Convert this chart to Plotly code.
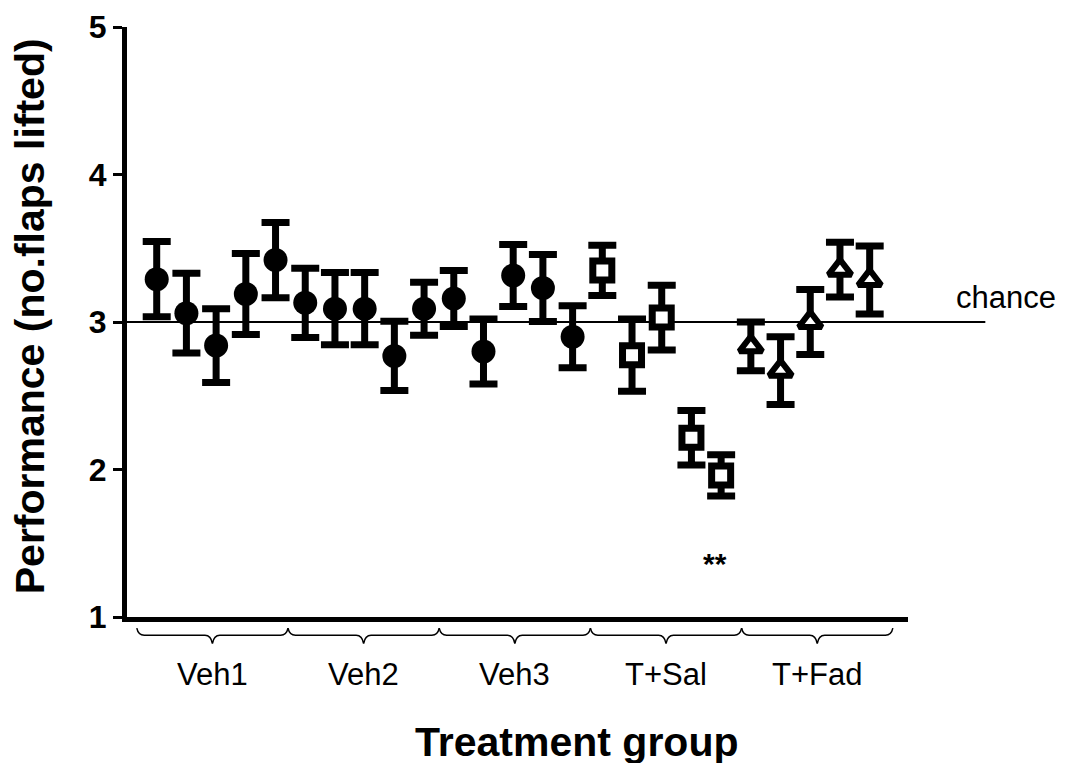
import plotly.graph_objects as go

# ---- data ----
groups = ["Veh1", "Veh2", "Veh3", "T+Sal", "T+Fad"]
per_group = 5

veh_means = [3.29, 3.06, 2.84, 3.19, 3.42,
             3.13, 3.09, 3.09, 2.77, 3.09,
             3.16, 2.80, 3.315, 3.23, 2.90]
veh_err = [0.255, 0.27, 0.25, 0.275, 0.255,
           0.235, 0.245, 0.245, 0.235, 0.18,
           0.19, 0.22, 0.21, 0.227, 0.21]

sal_means = [3.35, 2.775, 3.03, 2.215, 1.96]
sal_err = [0.17, 0.245, 0.22, 0.185, 0.14]

fad_means = [2.835, 2.67, 3.0, 3.355, 3.285]
fad_err = [0.165, 0.23, 0.22, 0.185, 0.23]

chance_level = 3
y_ticks = [1, 2, 3, 4, 5]
sig_label = "**"
sig_pos = (19.8, 1.36)

FONT = "Liberation Sans, Arial, sans-serif"

x_veh = list(range(1, 16))
x_sal = list(range(16, 21))
x_fad = list(range(21, 26))

fig = go.Figure()

def add_series(xs, ys, errs, symbol, size, fill, lw):
    fig.add_trace(go.Scatter(
        x=xs, y=ys, mode="markers",
        marker=dict(symbol=symbol, size=size, color=fill,
                    line=dict(color="black", width=lw)),
        error_y=dict(type="data", array=errs, visible=True,
                     color="black", thickness=7, width=14),
        showlegend=False, cliponaxis=False,
    ))

add_series(x_veh, veh_means, veh_err, "circle", 24, "black", 0)
add_series(x_sal, sal_means, sal_err, "square", 19, "white", 7)
add_series(x_fad, fad_means, fad_err, "triangle-up", 20, "white", 6)

shapes = []
# chance line
shapes.append(dict(type="line", xref="paper", yref="y", x0=0, x1=1.099,
                   y0=chance_level, y1=chance_level,
                   line=dict(color="black", width=2), layer="below"))

# braces beneath the axis
span = 5.09
start = 0.33
y_end, y_mid, y_tip = -0.019, -0.031, -0.045
annotations = []
for k, g in enumerate(groups):
    a = start + span * k
    b = a + span
    c = (a + b) / 2
    d = 0.25
    path = (f"M {a},{y_end} Q {a+0.05},{y_mid} {a+d},{y_mid} "
            f"L {c-d},{y_mid} Q {c-0.05},{y_mid} {c},{y_tip} "
            f"Q {c+0.05},{y_mid} {c+d},{y_mid} "
            f"L {b-d},{y_mid} Q {b-0.05},{y_mid} {b},{y_end}")
    shapes.append(dict(type="path", xref="x", yref="paper", path=path,
                       line=dict(color="black", width=1.5)))
    annotations.append(dict(x=c, y=-0.098, xref="x", yref="paper",
                            text=g, showarrow=False, xanchor="center",
                            yanchor="middle",
                            font=dict(family=FONT, size=31, color="black")))

annotations.append(dict(x=1.125, y=chance_level, xref="paper", yref="y",
                        yshift=25, text="chance", showarrow=False,
                        xanchor="center", yanchor="middle",
                        font=dict(family=FONT, size=31, color="black")))
annotations.append(dict(x=sig_pos[0], y=sig_pos[1], xref="x", yref="y",
                        text=sig_label, showarrow=False, xanchor="center",
                        font=dict(family=FONT, size=30, color="black",
                                  weight="bold")))
annotations.append(dict(x=0.575, y=-0.212, xref="paper", yref="paper",
                        text="Treatment group", showarrow=False,
                        xanchor="center", yanchor="middle",
                        font=dict(family=FONT, size=41, color="black",
                                  weight="bold")))
annotations.append(dict(x=-0.124, y=0.51, xref="paper", yref="paper",
                        text="Performance (no.flaps lifted)", showarrow=False,
                        textangle=-90, xanchor="center", yanchor="middle",
                        font=dict(family=FONT, size=41, color="black",
                                  weight="bold")))

# the page body adds an 8px margin, so the figure is 8px smaller
fig.update_layout(
    template="none",
    width=1058, height=755,
    margin=dict(l=119, r=158, t=19, b=146, autoexpand=False),
    paper_bgcolor="white", plot_bgcolor="white",
    shapes=shapes, annotations=annotations,
    xaxis=dict(range=[0, 26.29], showgrid=False, zeroline=False,
               showticklabels=False, ticks="", showline=True,
               automargin=False,
               linecolor="black", linewidth=5),
    yaxis=dict(range=[1, 5], tickvals=y_ticks, showgrid=False,
               zeroline=False, showline=True, linecolor="black",
               automargin=False,
               linewidth=5, ticks="outside", ticklen=9, tickwidth=3,
               tickcolor="black",
               tickfont=dict(family=FONT, size=32, color="black",
                             weight="bold")),
)

fig.write_html("out.html")
